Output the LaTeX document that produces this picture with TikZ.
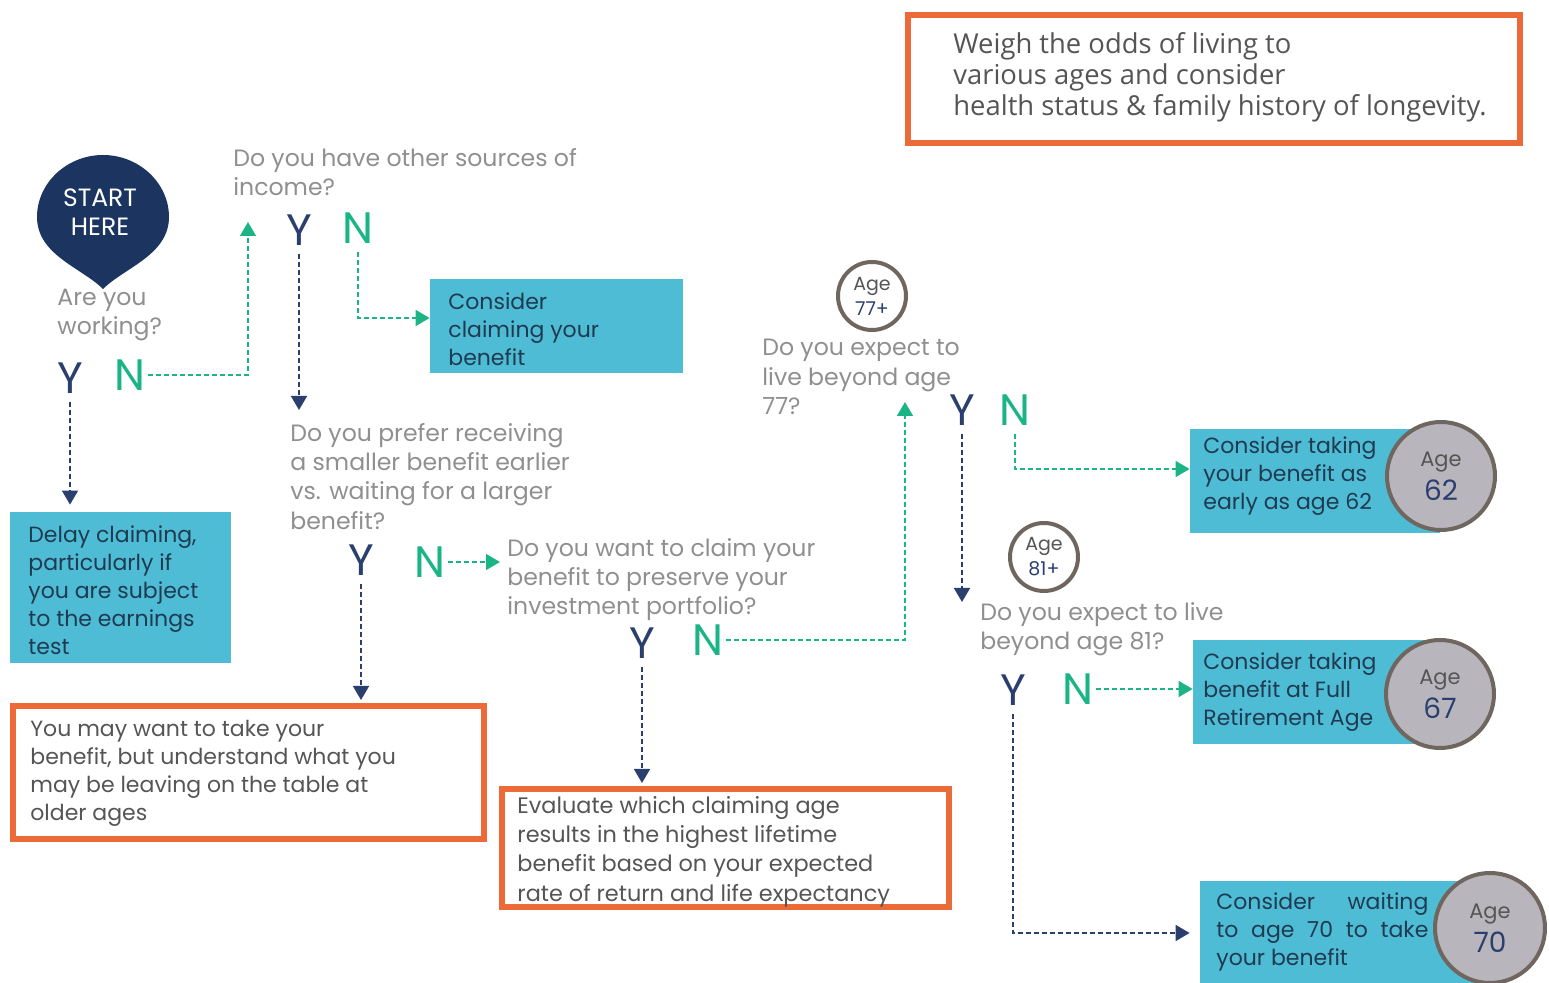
\documentclass[tikz,border=0pt]{standalone}
\usepackage{fontspec}
\setmainfont{Poppins}
\newfontfamily\notefont{Open Sans}
\usetikzlibrary{arrows.meta}
\definecolor{navy}{HTML}{1C3560}
\definecolor{ynavy}{HTML}{2B3F6E}
\definecolor{ngreen}{HTML}{1BB585}
\definecolor{boxcyan}{HTML}{4FBCD6}
\definecolor{boxtext}{HTML}{1F3B50}
\definecolor{orng}{HTML}{EB6A37}
\definecolor{qgray}{HTML}{8F8F8F}
\definecolor{notegray}{HTML}{555555}
\definecolor{agering}{HTML}{6F675F}
\definecolor{agefill}{HTML}{B8B6BC}
\begin{document}
\begin{tikzpicture}[x=0.5pt,y=-0.5pt,
  quest/.style={anchor=north west,align=left,inner sep=0pt,text=qgray,font=\fontsize{11.8}{14.6}\selectfont},
  yes/.style={inner sep=1pt,text=ynavy,font=\fontsize{22}{22}\selectfont},
  no/.style={inner sep=1pt,text=ngreen,font=\fontsize{22}{22}\selectfont},
  bluebox/.style={fill=boxcyan,inner sep=0pt},
  orangebox/.style={draw=orng,line width=3pt,fill=white,inner sep=0pt},
  boxtxt/.style={anchor=north west,align=left,inner sep=0pt,text=boxtext,font=\fontsize{11}{14}\selectfont},
  notetxt/.style={anchor=north west,align=left,inner sep=0pt,text=notegray,font=\fontsize{11}{14}\selectfont},
  agebig/.style={circle,fill=agefill,draw=agering,line width=2pt,minimum size=54pt,inner sep=0pt,align=center,text=notegray,font=\fontsize{10.5}{17}\selectfont},
  agesmall/.style={circle,fill=white,draw=agering,line width=2pt,minimum size=34pt,inner sep=0pt,align=center,text=notegray,font=\fontsize{9.5}{12.5}\selectfont},
  yline/.style={draw=ynavy,line width=0.8pt,dash pattern=on 2.5pt off 1.5pt,-{Triangle[length=7pt,width=8pt]}},
  nline/.style={draw=ngreen,line width=0.8pt,dash pattern=on 2.5pt off 1.5pt,-{Triangle[length=7pt,width=8pt]}}]
\useasboundingbox (0,0) rectangle (1549,983);

\node[orangebox,minimum width=306pt,minimum height=64pt] (weigh) at (1214,79) {};
\node[notetxt,font=\notefont\fontsize{13.7}{15.5}\selectfont] (weight) at (953,32) {Weigh the odds of living to\\various ages and consider\\health status \& family history of longevity.};

\fill[navy] (103,289) .. controls (82,268) and (37,255) .. (37,217) .. controls (37,183) and (67,155) .. (103,155) .. controls (139,155) and (169,183) .. (169,217) .. controls (169,255) and (124,268) .. (103,289) -- cycle;
\node[align=center,inner sep=0pt,text=white,font=\fontsize{12.5}{14.5}\selectfont] (start) at (100,212) {START\\HERE};

\node[quest] (q1) at (57,289) {Are you\\working?};
\node[yes] (y1) at (70,378) {Y};
\node[no] (n1) at (130,375) {N};
\node[bluebox,minimum width=110.5pt,minimum height=75.5pt] (delay) at (120.5,587.5) {};
\node[boxtxt] (delayt) at (28,525) {Delay claiming,\\particularly if\\you are subject\\to the earnings\\test};

\node[quest] (q2) at (233,148) {Do you have other sources of\\income?};
\node[yes] (y2) at (299,230) {Y};
\node[no] (n2) at (358,228) {N};
\node[bluebox,minimum width=126.5pt,minimum height=47pt] (clm) at (556.5,326) {};
\node[boxtxt] (clmt) at (448,292) {Consider\\claiming your\\benefit};

\node[quest] (q3) at (290,423) {Do you prefer receiving\\a smaller benefit earlier\\vs. waiting for a larger\\benefit?};
\node[yes] (y3) at (361,560) {Y};
\node[no] (n3) at (430,562) {N};
\node[orangebox,minimum width=235.5pt,minimum height=66.5pt] (may) at (248.5,772.5) {};
\node[notetxt] (mayt) at (30,720) {You may want to take your\\benefit, but understand what you\\may be leaving on the table at\\older ages};

\node[quest] (q4) at (507,538) {Do you want to claim your\\benefit to preserve your\\investment portfolio?};
\node[yes] (y4) at (642,643) {Y};
\node[no] (n4) at (708,640) {N};
\node[orangebox,minimum width=223.5pt,minimum height=59pt] (eval) at (725.5,848) {};
\node[notetxt,font=\fontsize{11.2}{14.6}\selectfont] (evalt) at (517,796) {Evaluate which claiming age\\results in the highest lifetime\\benefit based on your expected\\rate of return and life expectancy};

\node[agesmall] (a77) at (872,296) {Age\\{\color{ynavy}77+}};
\node[quest] (q5) at (762,339) {Do you expect to\\live beyond age\\77?};
\node[yes] (y5) at (962,410) {Y};
\node[no] (n5) at (1015,410) {N};
\node[bluebox,minimum width=125pt,minimum height=52pt] (c62) at (1315,481) {};
\node[boxtxt] (c62t) at (1203,436) {Consider taking\\your benefit as\\early as age 62};
\node[agebig] (a62) at (1441,476) {Age\\{\color{ynavy}\fontsize{14}{14}\selectfont 62}};

\node[agesmall] (a81) at (1044,557) {Age\\{\color{ynavy}81+}};
\node[quest] (q6) at (980,602) {Do you expect to live\\beyond age 81?};
\node[yes] (y6) at (1013,690) {Y};
\node[no] (n6) at (1078,689) {N};
\node[bluebox,minimum width=123.5pt,minimum height=52pt] (c67) at (1316.5,692) {};
\node[boxtxt] (c67t) at (1203,652) {Consider taking\\benefit at Full\\Retirement Age};
\node[agebig] (a67) at (1440,694) {Age\\{\color{ynavy}\fontsize{14}{14}\selectfont 67}};

\node[bluebox,minimum width=145pt,minimum height=52pt] (c70) at (1345,933) {};
\node[boxtxt] (c70t) at (1216,892) {\makebox[106pt][s]{Consider waiting}\\\makebox[106pt][s]{to age 70 to take}\\your benefit};
\node[agebig,minimum size=55pt] (a70) at (1490,928) {Age\\{\color{ynavy}\fontsize{14}{14}\selectfont 70}};

\coordinate (t1) at (248,222);
\coordinate (t2) at (905,402);
\draw[nline] (n1.east) -| (t1);
\draw[yline,shorten <=3pt,shorten >=3.5pt] (y1.south) -- (y1.south |- delay.north);
\draw[yline,shorten <=3pt,shorten >=6.5pt] (y2.south) -- (y2.south |- q3.north);
\draw[nline,shorten <=3pt] (n2.south) |- ([yshift=4pt]clm.west);
\draw[yline,shorten <=3pt,shorten >=1.5pt] (y3.south) -- (y3.south |- may.north);
\draw[nline,shorten >=3.5pt] (n3.east) -- (n3.east -| q4.west);
\draw[yline,shorten <=3pt,shorten >=1.5pt] (y4.south) -- (y4.south |- eval.north);
\draw[nline] (n4.east) -| (t2);
\draw[yline,shorten <=3pt] (y5.south) -- (y5.south |- q6.north);
\draw[nline,shorten <=3pt] (n5.south) |- ([yshift=6pt]c62.west);
\draw[nline] (n6.east) -- (n6.east -| c67.west);
\draw[yline,shorten <=3pt,shorten >=5pt] (y6.south) |- (c70.west);
\end{tikzpicture}
\end{document}
